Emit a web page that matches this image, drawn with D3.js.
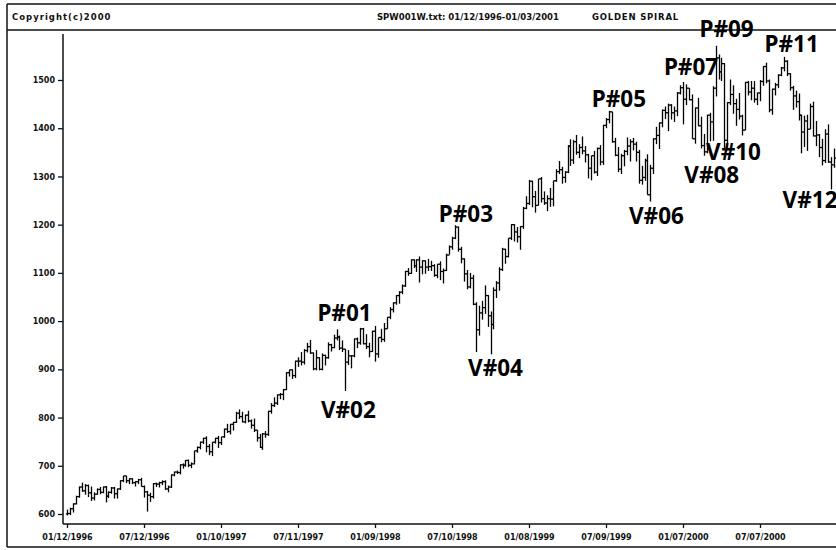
<!DOCTYPE html>
<html>
<head>
<meta charset="utf-8">
<script src="https://cdn.jsdelivr.net/npm/d3@7"></script>
<style>
  html, body { margin: 0; padding: 0; background: #ffffff; }
  svg { display: block; }
</style>
</head>
<body>
<svg id="chart" width="836" height="550"></svg>
<script>
// Weekly S&P 500 bars, week of 01/12/1996 through 01/03/2001.
const weekHigh = [
  // 1996
  609,613,622,638,657,665,662,661,657,645,653,656,657,658,647,656,656,653,670,679,679,674,674,668,673,675,659,648,644,664,665,667,670,670,659,682,688,690,703,705,712,713,707,731,740,750,758,761,745,749,758,
  // 1997
  762,760,777,787,787,791,812,817,812,806,814,796,798,774,766,768,772,814,830,842,848,851,859,894,899,900,918,925,936,942,955,961,935,940,925,933,930,956,953,972,983,970,960,942,940,929,964,966,986,986,973,955,
  // 1998
  980,990,966,984,996,1008,1029,1039,1054,1062,1076,1104,1110,1128,1128,1128,1134,1126,1126,1129,1125,1118,1118,1124,1109,1140,
  1157,1175,1199,1196,1154,1130,1106,1100,1096,1039,1032,1042,1074,1054,1020,1070,1083,1112,1152,1150,1172,1201,1201,1195,1197,1237,
  // 1999
  1259,1293,1291,1270,1295,1299,1269,1261,1276,1291,1315,1332,1320,1311,1365,1377,1376,1386,1367,1383,1363,1347,1343,1353,1360,1365,
  1407,1421,1436,1434,1380,1361,1347,1355,1381,1377,1380,1372,1355,1322,1337,1346,1324,1379,1403,1412,1439,1445,1451,1450,1445,1475,1489,
  // 2000
  1496,1491,1483,1470,1443,1463,1424,1388,1428,1432,1487,1571,1553,1546,1535,1454,1501,1489,1461,1473,1428,1496,1498,1498,1498,1474,
  1500,1529,1536,1501,1482,1494,1512,1527,1548,1541,1514,1488,1478,1472,1428,1426,1428,1451,1455,1415,1388,1378,1398,1408,1340,1358,
  // 2001
  1368
];
const weekLow = [
  597,598,603,620,634,646,640,635,627,628,640,641,643,624,633,642,632,632,650,666,664,662,662,657,662,657,634,605,625,632,656,655,660,650,645,654,678,683,682,694,698,697,695,703,727,734,745,728,722,720,746,
  737,743,758,768,765,773,789,797,790,788,790,777,770,750,737,733,758,762,808,822,826,838,836,857,885,880,882,905,908,910,935,932,898,898,898,898,908,922,937,944,960,940,936,855,909,902,925,944,951,952,942,925,
  936,916,924,956,957,984,1004,1018,1034,1036,1056,1071,1094,1098,1110,1102,1080,1097,1098,1104,1104,1092,1089,1085,1078,1104,
  1138,1148,1170,1144,1120,1082,1066,1068,1033,936,970,1003,1015,988,931,983,1048,1063,1104,1119,1132,1168,1165,1163,1148,1191,
  1232,1241,1236,1225,1240,1246,1241,1228,1237,1238,1289,1305,1285,1287,1307,1322,1326,1345,1338,1346,1329,1296,1292,1306,1301,1323,
  1324,1400,1410,1370,1342,1309,1305,1321,1344,1331,1354,1331,1285,1283,1291,1262,1248,1305,1367,1357,1402,1419,1394,1418,1413,1425,1470,
  1408,1448,1458,1378,1368,1404,1358,1343,1348,1373,1374,1466,1501,1498,1358,1358,1448,1430,1405,1418,1385,1396,1468,1458,1453,1448,
  1456,1488,1493,1433,1428,1468,1483,1508,1518,1508,1478,1438,1443,1416,1348,1361,1353,1398,1383,1363,1340,1323,1328,1328,1273,1318,
  1294
];
const weekClose = [
  601,611,621,636,656,648,659,644,633,641,651,645,656,637,645,654,642,652,669,679,669,673,665,667,671,657,646,639,636,663,662,665,667,652,656,681,687,686,702,701,711,701,704,731,738,749,757,740,729,749,757,
  748,760,776,771,786,790,809,802,791,805,793,784,774,758,738,766,765,813,825,830,847,848,858,893,899,887,917,917,915,939,947,934,901,924,900,929,924,951,945,965,967,944,942,915,928,928,963,955,984,953,947,937,
  979,932,966,962,984,1008,1024,1038,1053,1060,1073,1103,1099,1127,1115,1127,1112,1125,1112,1113,1115,1095,1118,1103,1105,1137,
  1154,1172,1195,1149,1129,1098,1071,1089,1035,982,1017,1028,1053,1011,993,1064,1079,1107,1149,1134,1172,1200,1185,1175,1196,1234,
  1244,1290,1258,1240,1295,1254,1245,1254,1253,1291,1310,1314,1298,1309,1363,1334,1372,1350,1360,1353,1345,1317,1343,1309,1358,1330,
  1406,1418,1434,1372,1344,1315,1343,1352,1363,1372,1367,1350,1292,1298,1333,1262,1317,1378,1385,1411,1437,1432,1448,1432,1436,1473,1484,
  1460,1483,1459,1378,1442,1405,1364,1351,1427,1413,1483,1546,1517,1534,1375,1453,1470,1451,1439,1425,1396,1495,1475,1483,1460,1473,
  1497,1528,1498,1438,1481,1490,1510,1525,1539,1513,1484,1467,1455,1427,1392,1415,1398,1445,1384,1386,1360,1333,1388,1330,1324,1338,
  1366
];
const firstOpen = 600;

// Axis ticks
const priceTicks = [600, 700, 800, 900, 1000, 1100, 1200, 1300, 1400, 1500];
const dateTickWeeks = [0, 26, 52, 78, 104, 130, 156, 182, 208, 234];
const dateTickLabels = ["01/12/1996", "07/12/1996", "01/10/1997", "07/11/1997", "01/09/1998",
                        "07/10/1998", "01/08/1999", "07/09/1999", "01/07/2000", "07/07/2000"];

// Swing points: label, week number, peak (P) or valley (V)
const pivotNames = ["P#01", "V#02", "P#03", "V#04", "P#05", "V#06", "P#07", "V#08", "P#09", "V#10", "P#11", "V#12"];
const pivotWeeks = [91, 94, 131, 143, 183, 197, 208, 215, 219, 222, 242, 258];

const headerLeft = "Copyright(c)2000";
const headerMid = "SPW001W.txt: 01/12/1996-01/03/2001";
const headerRight = "GOLDEN SPIRAL";

// ---------------------------------------------------------------
const svg = d3.select("#chart");
const W = 836, H = 550;
const smallFont = "'DejaVu Sans', sans-serif";

const x = d3.scaleLinear().domain([0, 234]).range([67, 760]);
const y = d3.scaleLinear().domain([600, 1500]).range([514, 80]);

// frame and header band
const frame = svg.append("g").attr("stroke", "#111").attr("stroke-width", 1.5).attr("fill", "none");
frame.append("line").attr("x1", 7).attr("x2", W).attr("y1", 4).attr("y2", 4);
frame.append("line").attr("x1", 7).attr("x2", W).attr("y1", 30).attr("y2", 30);
frame.append("line").attr("x1", 7).attr("x2", 7).attr("y1", 4).attr("y2", 547);
frame.append("line").attr("x1", 7).attr("x2", W).attr("y1", 547).attr("y2", 547);

const header = svg.append("g")
  .attr("font-family", smallFont).attr("font-weight", "bold")
  .attr("font-size", 8.5).attr("fill", "#111");
header.append("text").attr("x", 12).attr("y", 20).attr("letter-spacing", 1).text(headerLeft);
header.append("text").attr("x", 377).attr("y", 20).text(headerMid);
header.append("text").attr("x", 592).attr("y", 20).attr("letter-spacing", 0.8).text(headerRight);

// axes
const yAxis = svg.append("g")
  .attr("transform", "translate(63,0)")
  .call(d3.axisLeft(y).tickValues(priceTicks).tickSize(5).tickPadding(3).tickFormat(d3.format("d")));
yAxis.select(".domain").remove();
yAxis.selectAll("line").attr("stroke", "#111").attr("stroke-width", 1.3);
yAxis.selectAll("text").attr("font-family", smallFont).attr("font-weight", "bold")
  .attr("font-size", 8).attr("fill", "#111");
svg.append("line").attr("x1", 63).attr("x2", 63).attr("y1", 34).attr("y2", 524)
  .attr("stroke", "#111").attr("stroke-width", 1.5);

const xAxis = svg.append("g")
  .attr("transform", "translate(0,524)")
  .call(d3.axisBottom(x).tickValues(dateTickWeeks).tickSize(4).tickPadding(6)
        .tickFormat((d, i) => dateTickLabels[i]));
xAxis.select(".domain").remove();
xAxis.selectAll("line").attr("stroke", "#111").attr("stroke-width", 1.3);
xAxis.selectAll("text").attr("font-family", smallFont).attr("font-weight", "bold")
  .attr("font-size", 8).attr("fill", "#111");
svg.append("line").attr("x1", 63).attr("x2", W).attr("y1", 524).attr("y2", 524)
  .attr("stroke", "#111").attr("stroke-width", 1.5);

// OHLC bars
const bars = weekClose.map((c, i) => ({
  i, high: weekHigh[i], low: weekLow[i], close: c,
  open: i === 0 ? firstOpen : weekClose[i - 1]
}));
const px = i => Math.round(x(i)) + 0.5;
const barG = svg.append("g").attr("stroke", "#000").attr("stroke-width", 1.3);
barG.selectAll("line.hl").data(bars).join("line").attr("class", "hl")
  .attr("x1", d => px(d.i)).attr("x2", d => px(d.i))
  .attr("y1", d => y(d.high)).attr("y2", d => y(d.low));
barG.selectAll("line.op").data(bars).join("line").attr("class", "op")
  .attr("x1", d => px(d.i) - 1.6).attr("x2", d => px(d.i))
  .attr("y1", d => y(d.open)).attr("y2", d => y(d.open));
barG.selectAll("line.cl").data(bars).join("line").attr("class", "cl")
  .attr("x1", d => px(d.i)).attr("x2", d => px(d.i) + 1.6)
  .attr("y1", d => y(d.close)).attr("y2", d => y(d.close));

// swing point labels, set just above peaks and below valleys
const labelNudge = {
  "P#01": [8, -8], "V#02": [3, 27], "P#03": [11, -3], "V#04": [5, 22],
  "P#05": [10, -4], "V#06": [6, 22], "P#07": [8, -7], "V#08": [8, 27],
  "P#09": [11, -9], "V#10": [9, 12], "P#11": [8, -5], "V#12": [-21, 19]
};
const pivots = pivotNames.map((name, k) => {
  const w = pivotWeeks[k];
  const isPeak = name[0] === "P";
  return { name, w, value: isPeak ? weekHigh[w] : weekLow[w] };
});
svg.append("g")
  .attr("font-family", "'Noto Sans', sans-serif").attr("font-weight", "bold")
  .attr("font-size", 22.5).attr("fill", "#000").attr("text-anchor", "middle")
  .selectAll("text").data(pivots).join("text")
  .attr("x", d => x(d.w) + labelNudge[d.name][0])
  .attr("y", d => y(d.value) + labelNudge[d.name][1])
  .text(d => d.name);
</script>
</body>
</html>
